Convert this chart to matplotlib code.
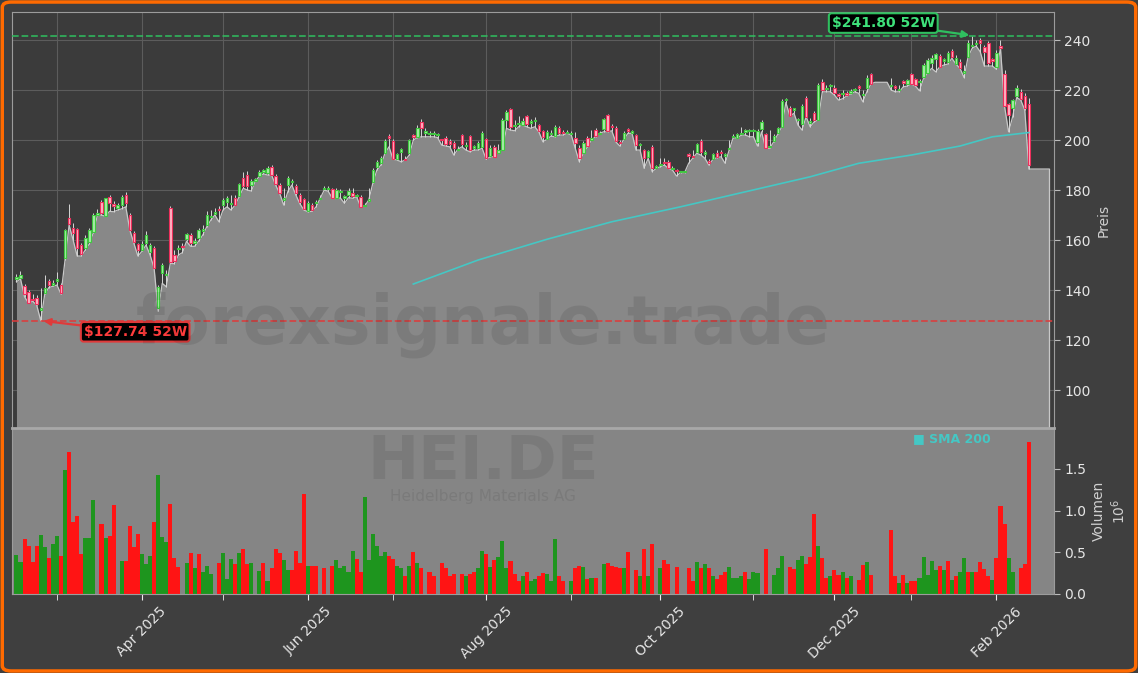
import numpy as np
import pandas as pd
import matplotlib
matplotlib.use("Agg")
import matplotlib.pyplot as plt
from matplotlib.patches import FancyBboxPatch

# trading calendar (Xetra)
START_DATE = "2025-02-17"
END_DATE = "2026-02-13"
XETRA_HOLIDAYS = ["2025-04-18", "2025-04-21", "2025-05-01", "2025-12-24",
                  "2025-12-25", "2025-12-26", "2025-12-31", "2026-01-01"]

nan = np.nan

opens = [
    144.3, 145.0, 141.6, 139.3, 136.5, 137.0, 132.0, 139.0, 143.5, 142.0,
    143.5, 142.0, 152.7, 169.0, 165.0, 164.3, 158.0, 156.7, 159.3, 163.3,
    170.0, 175.3, 169.7, 177.3, 174.5, 173.0, 174.0, 178.0, 170.0, 162.7,
    158.5, 156.0, 159.0, 155.3, 156.7, 132.7, 146.7, 146.0, 173.0, 154.0,
    156.5, 157.5, 160.5, 162.0, 159.0, 161.0, 163.8, 166.0, 169.3, 170.5,
    172.5, 174.0, 175.3, 174.3, 177.0, 177.6, 184.7, 186.0, 182.0, 183.8,
    185.7, 187.4, 186.7, 189.3, 185.7, 182.0, 176.0, 182.0, 183.3, 181.6,
    178.0, 176.3, 171.6, 174.0, 174.8, 176.5, 180.5, 180.3, 180.3, 177.0,
    179.2, 177.0, 178.0, 178.7, 177.5, 177.3, 173.6, 175.5, 183.3, 189.3,
    191.0, 195.0, 201.5, 199.7, 192.3, 195.3, 192.3, 194.7, 201.8, 201.3,
    207.3, 203.0, 202.5, 202.5, 202.0, 200.5, 200.7, 199.7, 199.0, 196.0,
    202.0, 197.5, 201.6, 197.0, 197.0, 197.3, 200.3, 193.6, 197.3, 195.0,
    196.0, 208.0, 212.3, 205.5, 206.5, 206.0, 209.6, 207.0, 207.5, 206.0,
    203.7, 200.3, 202.5, 201.6, 204.7, 203.2, 202.8, 202.5, 201.0, 197.0,
    194.7, 200.7, 200.0, 204.0, 202.5, 204.3, 210.0, 205.8, 205.0, 199.3,
    200.3, 204.3, 203.0, 202.0, 198.0, 196.0, 193.3, 197.3, 189.0, 190.0,
    191.0, 191.3, 188.5, 188.0, 187.3, 187.3, 194.5, 193.5, 195.3, 199.7,
    194.6, 191.8, 192.5, 195.0, 195.3, 193.8, 196.5, 201.3, 201.0, 202.5,
    203.4, 203.5, 203.5, 199.3, 204.3, 202.4, 197.3, 199.7, 202.7, 205.3,
    216.0, 212.7, 212.2, 208.0, 206.4, 216.7, 207.0, 210.7, 208.0, 223.3,
    220.5, 221.5, 221.0, 218.5, 218.5, 219.0, 218.8, 220.0, 221.6, 218.0,
    220.7, 226.4, nan, nan, nan, nan, 221.5, 221.5, 220.0, 223.5,
    222.4, 226.4, 224.3, 223.2, 225.3, 226.7, 230.7, 232.3, 233.6, 231.5,
    231.3, 235.7, 230.4, 231.3, 227.0, 233.3, 237.5, 238.5, 240.0, 237.3,
    238.7, 232.2, 229.3, 237.6, 226.4, 214.4, 213.0, 217.6, 219.3, 217.6,
    214.4,
]

closes = [
    145.3, 146.0, 138.4, 135.0, 136.0, 134.4, 133.0, 141.0, 142.0, 143.0,
    144.5, 138.7, 164.0, 166.4, 163.0, 156.7, 154.4, 160.7, 164.0, 170.0,
    171.0, 170.7, 176.7, 174.7, 173.5, 174.0, 177.3, 175.0, 164.0, 159.3,
    156.0, 158.4, 162.0, 158.0, 149.0, 141.3, 150.0, 146.5, 151.3, 151.6,
    156.8, 157.3, 162.3, 158.7, 159.5, 164.0, 164.2, 170.0, 169.8, 171.3,
    172.0, 176.0, 176.7, 174.6, 174.0, 182.4, 181.6, 181.6, 183.6, 184.0,
    187.2, 187.6, 188.7, 186.0, 182.4, 179.0, 177.0, 184.7, 183.6, 178.7,
    175.3, 172.3, 174.7, 172.0, 175.2, 177.0, 180.7, 180.5, 177.0, 180.0,
    179.5, 177.5, 179.5, 177.6, 177.7, 173.3, 174.0, 176.5, 188.0, 191.3,
    192.7, 199.7, 201.0, 192.3, 194.4, 196.3, 192.0, 200.0, 201.4, 205.0,
    205.0, 203.5, 202.8, 202.7, 202.2, 200.0, 198.4, 198.4, 196.7, 196.5,
    198.4, 198.0, 196.0, 197.3, 199.0, 202.7, 192.7, 197.0, 193.3, 196.0,
    208.0, 211.3, 205.3, 206.0, 207.0, 207.7, 206.4, 207.3, 208.2, 203.7,
    201.3, 203.3, 203.0, 205.3, 202.7, 202.8, 203.0, 202.9, 199.0, 193.0,
    198.7, 197.5, 201.0, 201.6, 203.0, 208.3, 203.7, 205.2, 199.7, 198.7,
    202.7, 203.5, 203.2, 198.0, 198.2, 193.0, 195.7, 188.7, 189.2, 190.5,
    190.8, 188.7, 188.7, 187.7, 187.3, 187.3, 193.8, 193.2, 198.4, 195.3,
    195.2, 191.0, 194.4, 193.3, 194.8, 194.2, 196.8, 201.6, 202.6, 202.8,
    203.6, 203.7, 203.8, 203.7, 207.3, 197.0, 197.5, 201.6, 204.7, 215.7,
    216.2, 209.6, 212.4, 208.5, 213.6, 209.3, 207.5, 208.0, 222.0, 220.0,
    220.8, 221.7, 218.7, 217.5, 218.8, 218.0, 219.6, 220.3, 221.0, 218.5,
    224.7, 222.4, nan, nan, nan, nan, 221.8, 220.7, 220.3, 222.8,
    224.0, 222.4, 222.0, 223.5, 230.0, 232.0, 233.0, 234.4, 229.3, 232.3,
    235.0, 233.3, 233.0, 228.7, 227.5, 239.0, 237.8, 238.8, 239.0, 235.3,
    231.0, 231.8, 235.0, 236.8, 213.6, 210.0, 216.0, 221.0, 216.3, 213.0,
    190.0,
]

highs = [
    146.5, 147.7, 142.5, 140.0, 138.5, 138.0, 141.0, 146.0, 144.5, 144.0,
    147.3, 143.0, 164.5, 174.4, 167.0, 165.0, 159.0, 162.0, 165.0, 171.0,
    172.5, 176.0, 177.0, 178.0, 175.5, 175.0, 178.0, 179.3, 171.0, 163.5,
    159.0, 159.5, 163.5, 159.0, 157.5, 142.0, 151.0, 148.0, 173.5, 156.0,
    158.0, 159.0, 163.0, 163.0, 161.0, 165.0, 166.0, 171.5, 172.0, 173.0,
    173.5, 177.0, 177.5, 178.0, 178.0, 183.0, 187.3, 187.5, 184.5, 185.0,
    188.0, 188.5, 189.5, 190.0, 186.5, 183.0, 181.0, 185.5, 184.5, 182.5,
    179.0, 177.0, 175.5, 175.0, 176.0, 178.0, 181.5, 181.5, 181.0, 181.0,
    180.5, 178.0, 181.0, 181.0, 178.5, 178.0, 175.0, 181.0, 189.0, 192.0,
    193.5, 200.5, 202.5, 200.5, 195.0, 197.0, 193.5, 200.5, 202.5, 206.0,
    208.5, 205.0, 203.5, 203.5, 203.0, 200.5, 201.5, 200.5, 199.5, 197.5,
    202.5, 199.3, 202.0, 198.0, 199.5, 203.5, 201.0, 198.0, 198.0, 198.5,
    209.0, 212.0, 213.0, 208.0, 209.6, 209.0, 210.0, 208.5, 209.3, 206.5,
    204.0, 204.0, 204.0, 206.0, 205.5, 204.0, 204.0, 203.5, 203.3, 198.0,
    199.5, 201.5, 204.0, 205.0, 203.5, 209.0, 210.5, 206.5, 205.5, 200.0,
    203.5, 205.0, 204.0, 202.5, 199.0, 196.5, 196.0, 198.0, 190.0, 192.7,
    192.7, 192.0, 189.5, 188.5, 187.5, 187.5, 195.0, 196.0, 199.0, 200.5,
    196.0, 192.5, 195.0, 196.0, 196.0, 195.0, 200.0, 202.5, 203.0, 205.3,
    204.5, 204.5, 204.5, 204.5, 208.0, 203.0, 204.0, 202.5, 205.3, 216.5,
    216.7, 213.5, 213.0, 209.0, 214.5, 217.5, 209.0, 211.5, 223.0, 224.5,
    222.0, 222.5, 222.0, 219.0, 220.0, 219.5, 220.3, 221.0, 222.0, 220.0,
    226.0, 227.0, nan, nan, nan, nan, 224.7, 222.0, 222.0, 224.0,
    224.5, 227.0, 225.0, 224.5, 231.0, 233.0, 234.0, 235.0, 234.5, 233.0,
    235.5, 236.5, 234.0, 232.5, 230.0, 240.0, 241.8, 240.0, 240.8, 238.0,
    239.5, 233.0, 236.0, 240.0, 228.0, 215.0, 216.5, 222.0, 220.5, 219.0,
    217.0,
]

lows = [
    143.3, 144.5, 137.3, 134.7, 135.5, 134.0, 127.74, 138.5, 141.0, 141.5,
    142.0, 138.4, 152.0, 166.0, 160.0, 153.6, 153.6, 156.0, 158.5, 163.0,
    170.0, 170.0, 169.5, 171.5, 171.3, 172.0, 172.5, 173.3, 164.0, 158.7,
    153.6, 155.5, 158.0, 154.0, 148.7, 131.5, 142.7, 141.3, 150.7, 150.5,
    154.0, 155.0, 159.5, 157.5, 157.5, 159.5, 162.0, 165.3, 168.0, 170.0,
    167.3, 172.0, 173.3, 172.0, 174.0, 177.3, 180.7, 180.0, 179.6, 183.6,
    185.5, 186.5, 186.0, 186.0, 182.0, 178.7, 174.0, 179.3, 182.0, 178.0,
    174.5, 172.0, 171.3, 171.5, 173.3, 176.7, 180.0, 179.5, 176.7, 176.8,
    176.8, 174.7, 177.0, 176.7, 177.3, 173.3, 173.6, 176.0, 182.7, 188.0,
    190.0, 194.7, 197.3, 192.3, 192.0, 191.3, 192.0, 194.0, 200.0, 201.0,
    201.3, 201.3, 201.3, 201.3, 201.0, 198.0, 197.6, 197.3, 194.0, 196.3,
    197.3, 196.0, 195.3, 196.0, 196.0, 196.7, 192.3, 193.3, 193.3, 195.3,
    196.0, 204.7, 204.0, 203.7, 205.3, 206.0, 205.3, 204.7, 205.3, 203.3,
    199.3, 200.3, 201.6, 201.3, 202.0, 202.0, 202.7, 202.0, 196.7, 191.3,
    194.7, 197.3, 200.0, 201.3, 202.7, 203.3, 203.3, 203.7, 199.3, 197.6,
    200.3, 202.7, 202.7, 196.0, 196.0, 188.7, 192.7, 187.3, 188.7, 189.3,
    190.0, 188.7, 188.0, 185.6, 187.0, 187.0, 190.7, 192.7, 194.7, 194.0,
    192.7, 190.0, 192.3, 193.0, 193.3, 190.7, 196.0, 201.0, 200.7, 202.0,
    202.0, 201.3, 201.3, 197.6, 203.3, 196.7, 196.7, 199.3, 202.3, 205.3,
    215.0, 209.6, 210.7, 206.0, 204.0, 209.3, 205.3, 207.3, 208.0, 219.3,
    219.3, 219.3, 218.0, 216.0, 216.5, 217.6, 218.4, 219.3, 218.7, 215.3,
    219.3, 222.4, 223.1, 223.1, 223.1, 223.1, 220.0, 219.3, 219.3, 221.3,
    221.6, 222.4, 221.6, 219.7, 224.7, 226.7, 228.7, 227.3, 229.3, 230.0,
    230.4, 232.7, 230.4, 228.7, 225.0, 233.3, 236.7, 237.6, 235.3, 229.6,
    229.6, 229.6, 228.3, 236.7, 213.5, 203.3, 209.3, 217.0, 216.0, 212.0,
    188.4,
]

# volume in millions, 0 = no bar
volumes = [
    0.47, 0.38, 0.66, 0.58, 0.38, 0.58, 0.71, 0.56, 0.43, 0.60,
    0.70, 0.45, 1.49, 1.70, 0.86, 0.93, 0.48, 0.67, 0.67, 1.13,
    0.00, 0.84, 0.67, 0.69, 1.07, 0.00, 0.40, 0.40, 0.81, 0.56,
    0.72, 0.48, 0.36, 0.45, 0.86, 1.43, 0.68, 0.62, 1.08, 0.43,
    0.32, 0.00, 0.37, 0.49, 0.31, 0.48, 0.26, 0.33, 0.24, 0.00,
    0.37, 0.49, 0.18, 0.42, 0.36, 0.49, 0.54, 0.36, 0.37, 0.00,
    0.27, 0.37, 0.16, 0.31, 0.54, 0.49, 0.41, 0.29, 0.29, 0.52,
    0.37, 1.20, 0.33, 0.34, 0.33, 0.00, 0.31, 0.00, 0.34, 0.41,
    0.31, 0.34, 0.26, 0.51, 0.42, 0.26, 1.16, 0.41, 0.72, 0.58,
    0.45, 0.50, 0.45, 0.42, 0.33, 0.31, 0.22, 0.34, 0.50, 0.37,
    0.31, 0.00, 0.26, 0.22, 0.00, 0.37, 0.31, 0.22, 0.24, 0.00,
    0.24, 0.21, 0.24, 0.26, 0.31, 0.51, 0.48, 0.32, 0.41, 0.44,
    0.63, 0.31, 0.40, 0.24, 0.16, 0.21, 0.26, 0.16, 0.18, 0.21,
    0.25, 0.24, 0.15, 0.66, 0.21, 0.15, 0.00, 0.16, 0.31, 0.33,
    0.32, 0.18, 0.19, 0.19, 0.00, 0.36, 0.37, 0.33, 0.32, 0.31,
    0.31, 0.50, 0.00, 0.29, 0.21, 0.54, 0.22, 0.60, 0.00, 0.31,
    0.41, 0.36, 0.00, 0.32, 0.00, 0.00, 0.31, 0.16, 0.38, 0.31,
    0.36, 0.31, 0.21, 0.18, 0.23, 0.26, 0.32, 0.19, 0.19, 0.22,
    0.26, 0.18, 0.26, 0.25, 0.00, 0.54, 0.00, 0.23, 0.31, 0.45,
    0.00, 0.32, 0.30, 0.41, 0.45, 0.36, 0.44, 0.96, 0.58, 0.43,
    0.19, 0.22, 0.29, 0.23, 0.26, 0.19, 0.21, 0.00, 0.17, 0.35,
    0.38, 0.23, 0.00, 0.00, 0.00, 0.00, 0.77, 0.22, 0.13, 0.23,
    0.13, 0.15, 0.16, 0.19, 0.44, 0.23, 0.40, 0.29, 0.33, 0.29,
    0.40, 0.17, 0.21, 0.26, 0.43, 0.26, 0.26, 0.26, 0.38, 0.30,
    0.22, 0.17, 0.43, 1.05, 0.84, 0.43, 0.26, 0.00, 0.31, 0.36,
    1.82,
]

# g = up day, r = down day, - = no volume
volume_direction = (
    "ggrrrrggrg" "grgrrrrggg" "-rgrr-grrr" "rgggrgggrr" "r-grgrggg-"
    "rgggrgrrg-" "grgrrrggrr" "rrgrr-r-rg" "ggggrrgggg" "ggrrggrgrg"
    "r-rr-rrrr-" "rgrrggrgrg" "ggrrrgrggr" "rgggrr-grr" "grgr-grrrr"
    "gr-rgrgr-g" "rr-r--rrgr" "grgrrrgggg" "rggg-r-ggg" "-rrggrrrgr"
    "rgrrgrg-rr" "gr----rrgr" "grrgggggrg" "rgrggrgrrr" "rgrrrgg-rr"
    "r"
)

# SMA 200 read at a few trading-day positions
sma_days = [98, 114, 131, 147, 164, 180, 196, 208, 221, 233, 241, 250]
sma_values = [142.4, 152.0, 160.3, 167.3, 173.3, 179.3, 185.3, 190.7,
              194.0, 197.6, 201.3, 203.0]

HIGH_52W = 241.80
LOW_52W = 127.74

# styling
FIG_BG = "#3f3f3f"
PANEL_BG = "#3b3b3b"
FILL_GRAY = "#888888"
VOL_BG = "#858585"
EDGE_GRAY = "#c8c8c8"
GRID = "#5c5c5c"
TEXT = "#e6e6e6"
WICK = "#d6d6d6"
UP_FACE = "#a6eea6"
UP_EDGE = "#3fc93f"
DOWN_FACE = "#ffb3c3"
DOWN_EDGE = "#ee2f5c"
VOL_UP = "#1e951e"
VOL_DOWN = "#ff1414"
SMA_COLOR = "#45c7c4"
HIGH_COLOR = "#2fbf5f"
LOW_COLOR = "#e03a3a"
EXTEND_DAYS = 5


def trading_days(n):
    days = pd.bdate_range(START_DATE, END_DATE)
    days = days[~days.isin(pd.to_datetime(XETRA_HOLIDAYS))]
    return days[:n]


def month_ticks(days):
    starts = [i for i in range(1, len(days)) if days[i].month != days[i - 1].month]
    major = [i for i in starts if days[i].month % 2 == 0]
    minor = [i for i in starts if days[i].month % 2 == 1]
    labels = [days[i].strftime("%b %Y") for i in major]
    return major, minor, labels


def draw_price(ax, x):
    o = np.array(opens)
    c = np.array(closes)
    h = np.array(highs)
    lo = np.array(lows)
    ybottom = 84.8

    ax.set_facecolor(PANEL_BG)

    x_fill = np.append(x, x[-1] + EXTEND_DAYS)
    y_fill = np.append(lo, lo[-1])
    ax.fill_between(x_fill, y_fill, ybottom, color=FILL_GRAY, linewidth=0, zorder=2)
    ax.plot(x_fill, y_fill, color=EDGE_GRAY, lw=0.9, zorder=2.5)
    ax.plot([x_fill[-1], x_fill[-1]], [ybottom, y_fill[-1]], color=EDGE_GRAY, lw=0.9, zorder=2.5)

    valid = ~np.isnan(o)
    up = valid & (c >= o)
    down = valid & (c < o)
    body = np.maximum(np.abs(c - o), 0.5)

    ax.vlines(x[valid], lo[valid], h[valid], color=WICK, lw=0.7, zorder=3)
    ax.bar(x[up], body[up], bottom=o[up], width=0.6, color=UP_FACE,
           edgecolor=UP_EDGE, linewidth=0.8, zorder=4)
    ax.bar(x[down], body[down], bottom=c[down], width=0.6, color=DOWN_FACE,
           edgecolor=DOWN_EDGE, linewidth=0.8, zorder=4)

    ax.plot(sma_days, sma_values, color=SMA_COLOR, lw=1.2, zorder=5)

    ax.axhline(HIGH_52W, color=HIGH_COLOR, ls="--", lw=1.3, alpha=0.85, zorder=5)
    ax.axhline(LOW_52W, color=LOW_COLOR, ls="--", lw=1.3, alpha=0.85, zorder=5)

    i_high = int(np.nanargmax(h))
    i_low = int(np.nanargmin(lo))
    ax.annotate(f"${HIGH_52W:.2f} 52W", xy=(i_high, HIGH_52W),
                xytext=(-64, 9), textcoords="offset points",
                ha="center", va="center", fontsize=10, fontweight="bold",
                color="#3ee07a", zorder=7,
                bbox=dict(boxstyle="round,pad=0.2", fc="black", ec=HIGH_COLOR, lw=1.5),
                arrowprops=dict(arrowstyle="-|>", color=HIGH_COLOR, lw=1.6,
                                shrinkA=0, shrinkB=2))
    ax.annotate(f"${LOW_52W:.2f} 52W", xy=(i_low, LOW_52W),
                xytext=(68, -8), textcoords="offset points",
                ha="center", va="center", fontsize=10, fontweight="bold",
                color="#ff3c3c", zorder=7,
                bbox=dict(boxstyle="round,pad=0.2", fc="black", ec=LOW_COLOR, lw=1.5),
                arrowprops=dict(arrowstyle="-|>", color=LOW_COLOR, lw=1.6,
                                shrinkA=0, shrinkB=2))

    ax.set_ylim(ybottom, 251.2)
    ax.set_yticks(range(100, 241, 20))
    ax.yaxis.tick_right()
    ax.yaxis.set_label_position("right")
    ax.set_ylabel("Preis", color="#d0d0d0", fontsize=10, labelpad=4)
    ax.grid(True, which="both", color=GRID, lw=0.8, zorder=0)
    ax.set_axisbelow(True)
    ax.tick_params(axis="x", which="both", length=0, labelbottom=False)
    ax.tick_params(axis="y", colors=TEXT, labelsize=10, length=4, color="#bbbbbb")
    for side in ["top", "left", "right"]:
        ax.spines[side].set_color("#9c9c9c")
    ax.spines["bottom"].set_visible(False)


def draw_volume(ax, x):
    ax.set_facecolor(VOL_BG)
    colors = [VOL_UP if d == "g" else VOL_DOWN for d in volume_direction]
    ax.bar(x, volumes, width=1.0, color=colors, linewidth=0, zorder=2)

    ax.set_ylim(0, 1.992)
    ax.set_yticks([0.0, 0.5, 1.0, 1.5])
    ax.set_yticklabels(["0.0", "0.5", "1.0", "1.5"])
    ax.yaxis.tick_right()
    ax.yaxis.set_label_position("right")
    ax.set_ylabel("Volumen\n$10^6$", color="#d0d0d0", fontsize=10, labelpad=4)
    ax.tick_params(axis="y", colors=TEXT, labelsize=10, length=4, color="#bbbbbb")
    ax.tick_params(axis="x", which="both", colors=TEXT, labelsize=10, length=4,
                   color="#eeeeee")
    ax.spines["top"].set_color("#a8a8a8")
    ax.spines["top"].set_linewidth(2)
    for side in ["bottom", "left", "right"]:
        ax.spines[side].set_color("#9c9c9c")


def main():
    n = len(closes)
    x = np.arange(n)
    days = trading_days(n)
    major, minor, labels = month_ticks(days)

    fig = plt.figure(figsize=(11.38, 6.73), dpi=100, facecolor=FIG_BG)
    ax_price = fig.add_axes([0.01054, 0.364, 0.9156, 0.6181])
    ax_vol = fig.add_axes([0.01054, 0.1174, 0.9156, 0.2467], sharex=ax_price)

    draw_price(ax_price, x)
    draw_volume(ax_vol, x)

    ax_vol.set_xticks(major)
    ax_vol.set_xticks(minor, minor=True)
    ax_vol.set_xticklabels(labels, rotation=45, ha="center")
    ax_vol.set_xlim(-1.1, 256.2)

    # watermarks
    fig.text(0.4244, 0.517, "forexsignale.trade", fontsize=48, fontweight="bold",
             color="black", alpha=0.09, ha="center", va="center")
    fig.text(0.4244, 0.3135, "HEI.DE", fontsize=44, fontweight="bold",
             color="black", alpha=0.08, ha="center", va="center")
    fig.text(0.4244, 0.262, "Heidelberg Materials AG", fontsize=11,
             color="black", alpha=0.08, ha="center", va="center")

    fig.text(0.802, 0.349, "■ SMA 200", fontsize=9, fontweight="bold",
             color=SMA_COLOR, ha="left", va="center")

    border = FancyBboxPatch((0.002, 0.003), 0.996, 0.994,
                            boxstyle="round,pad=0,rounding_size=0.008",
                            transform=fig.transFigure, fill=False,
                            edgecolor="#ff6a00", linewidth=2.5)
    fig.patches.append(border)

    fig.savefig("out.png", dpi=100, facecolor=FIG_BG)


if __name__ == "__main__":
    main()
